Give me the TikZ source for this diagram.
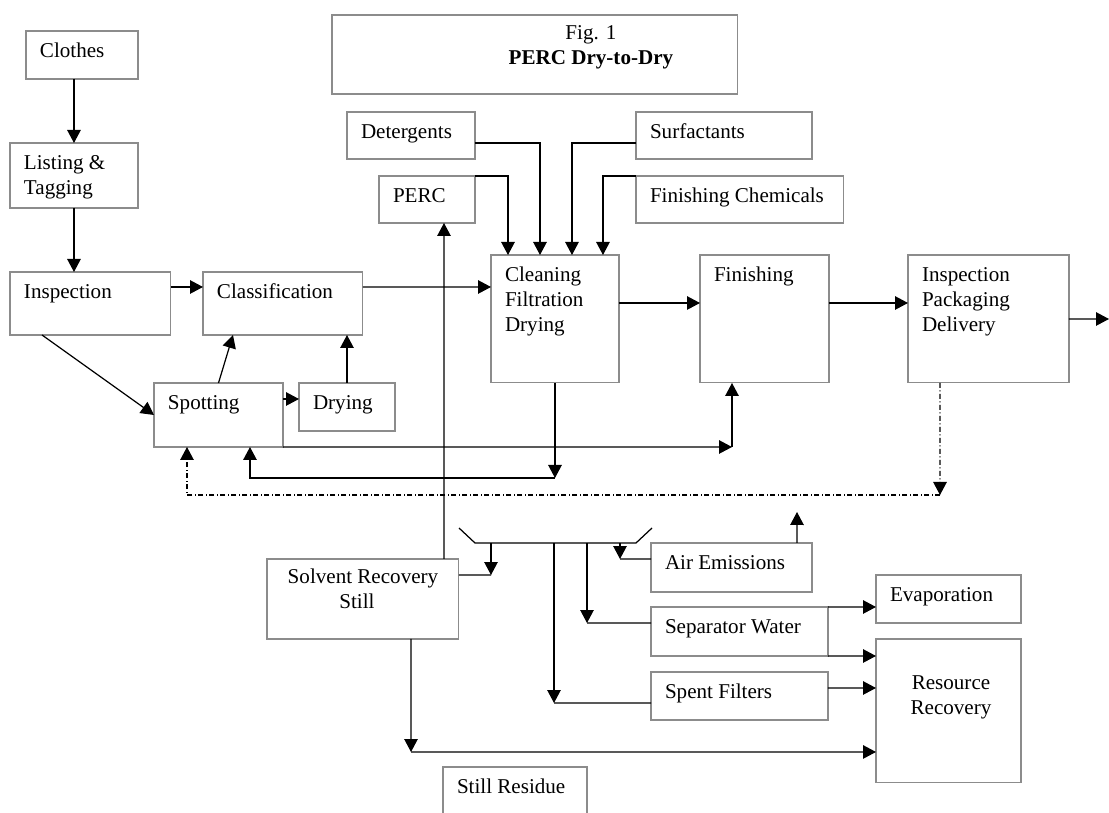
\documentclass[tikz,border=0pt]{standalone}
\usepackage{fontspec}
\setmainfont{Liberation Serif}
\usetikzlibrary{arrows.meta}

\newcommand{\boxtxt}[3]{\parbox[t][#2][t]{#1}{\raggedright\leftskip=0.28cm\rule{0pt}{0.54cm}#3}}
\newcommand{\boxmid}[4]{\parbox[t][#2][t]{#1}{\centering\leftskip=#3 plus 1fil\rule{0pt}{0.5cm}#4}}

\begin{document}
\begin{tikzpicture}[x=0.02cm, y=-0.02cm,
    box/.style={draw=black!45, line width=0.6pt, inner sep=0pt, outer sep=0pt, anchor=north west, font=\fontsize{12}{14}\selectfont},
    arr/.style={line width=0.7pt, -{Triangle[length=2.6mm,width=2.7mm]}},
    ln/.style={line width=0.7pt},
    dashdot/.style={dash pattern=on 1mm off 0.5mm on 0.2mm off 0.5mm}]
      \useasboundingbox (0,0) rectangle (1109,813);

      \node[box] (title) at (332,15) {\boxmid{8.12cm}{1.58cm}{2.24cm}{Fig. 1\\\textbf{PERC Dry-to-Dry}}};
      \node[box] (clothes) at (26,31) {\boxtxt{2.24cm}{0.96cm}{Clothes}};
      \node[box] (listing) at (10,143) {\boxtxt{2.56cm}{1.30cm}{Listing \&\\Tagging}};
      \node[box] (insp) at (10,272) {\boxtxt{3.22cm}{1.26cm}{Inspection}};
      \node[box] (class) at (203,272) {\boxtxt{3.20cm}{1.26cm}{Classification}};
      \node[box] (spot) at (154,383) {\boxtxt{2.58cm}{1.28cm}{Spotting}};
      \node[box] (dry) at (299,383) {\boxtxt{1.92cm}{0.96cm}{Drying}};
      \node[box] (deterg) at (347,112) {\boxtxt{2.56cm}{0.94cm}{Detergents}};
      \node[box] (surf) at (636,112) {\boxtxt{3.52cm}{0.94cm}{Surfactants}};
      \node[box] (perc) at (379,176) {\boxtxt{1.92cm}{0.94cm}{PERC}};
      \node[box] (finchem) at (636,176) {\boxtxt{4.16cm}{0.94cm}{Finishing Chemicals}};
      \node[box] (clean) at (491,255) {\boxtxt{2.56cm}{2.56cm}{Cleaning\\Filtration\\Drying}};
      \node[box] (finish) at (700,255) {\boxtxt{2.58cm}{2.56cm}{Finishing}};
      \node[box] (ipd) at (908,255) {\boxtxt{3.22cm}{2.56cm}{Inspection\\Packaging\\Delivery}};
      \node[box] (srs) at (267,559) {\boxmid{3.84cm}{1.60cm}{0cm}{Solvent Recovery\\Still\hspace*{0.24cm}}};
      \node[box] (air) at (651,543) {\boxtxt{3.22cm}{0.98cm}{Air Emissions}};
      \node[box] (sepw) at (651,607) {\boxtxt{3.54cm}{0.98cm}{Separator Water}};
      \node[box] (spent) at (651,672) {\boxtxt{3.54cm}{0.96cm}{Spent Filters}};
      \node[box] (evap) at (876,575) {\boxtxt{2.90cm}{0.96cm}{Evaporation}};
      \node[box] (rr) at (876,639) {\boxmid{2.90cm}{2.88cm}{0.1cm}{\rule{0pt}{1.02cm}Resource\\Recovery}};
      \node[box] (resid) at (443,767) {\boxtxt{2.88cm}{1.00cm}{Still Residue}};

      \coordinate (out) at (1109,319);
      \coordinate (cj) at (554,478);
      \coordinate (fj) at (732,447);
      \coordinate (dj) at (940,495);
      \coordinate (bl) at (459,528);
      \coordinate (b1) at (475,543);
      \coordinate (b2) at (636,543);
      \coordinate (br) at (652,528);
      \coordinate (s1) at (491,575);
      \coordinate (s2) at (554,703);
      \coordinate (s3) at (587,623);
      \coordinate (s4) at (620,559);
      \coordinate (ae) at (797,512);
      \coordinate (rj) at (411,752);

      \draw[arr] (clothes.south -| listing.north) -- (listing.north);
      \draw[arr] (listing.south) -- (listing.south |- insp.north);
      \draw[arr] ([yshift=-0.3cm]insp.north east) -- ([yshift=-0.3cm]class.north west);
      \draw[arr] ([xshift=0.64cm]insp.south west) -- ([yshift=-0.64cm]spot.north west);
      \draw[arr] (spot.north) -- ([xshift=0.6cm]class.south west);
      \draw[arr] (dry.north) -- (dry.north |- class.south);
      \draw[arr] ([yshift=-0.32cm]spot.north east) -- ([yshift=-0.32cm]dry.north west);
      \draw[arr] ([yshift=-0.3cm]class.north east) -- ([yshift=-0.64cm]clean.north west);

      \draw[arr] ([yshift=-0.62cm]deterg.north east) -| ([xshift=0.98cm]clean.north west);
      \draw[arr] (perc.north east) -| ([xshift=0.34cm]clean.north west);
      \draw[arr] ([yshift=-0.62cm]surf.north west) -| ([xshift=1.62cm]clean.north west);
      \draw[arr] (finchem.north west) -| ([xshift=2.24cm]clean.north west);

      \draw[arr] ([yshift=-0.96cm]clean.north east) -- ([yshift=-0.96cm]finish.north west);
      \draw[arr] ([yshift=-0.96cm]finish.north east) -- ([yshift=-0.96cm]ipd.north west);
      \draw[arr] (ipd.east) -- (out);

      \draw[arr] (clean.south) -- (clean.south |- cj);
      \draw[arr] (clean.south |- cj) -| ([xshift=1.92cm]spot.south west);
      \draw[arr] (spot.south east) -- (fj);
      \draw[arr] (fj) -- (fj |- finish.south);
      \draw[arr, dashdot] ([xshift=0.64cm]ipd.south west) -- (dj);
      \draw[arr, dashdot] (dj) -| ([xshift=0.66cm]spot.south west);

      \draw[arr] ([xshift=3.54cm]srs.north west) -- ([xshift=1.3cm]perc.south west);

      \draw[ln] (bl) -- (b1) -- (b2) -- (br);
      \foreach \s in {s1,s2,s3,s4}
        \draw[arr] (b1 -| \s) -- (\s);
      \draw[ln] ([yshift=-0.32cm]srs.north east) -- (s1);
      \draw[ln] ([yshift=-0.62cm]spent.north west) -- (s2);
      \draw[ln] ([yshift=-0.32cm]sepw.north west) -- (s3);
      \draw[ln] ([yshift=-0.32cm]air.north west) -- (s4);
      \draw[arr] ([xshift=2.92cm]air.north west) -- (ae);

      \draw[arr] (sepw.north east) -- ([yshift=-0.64cm]evap.north west);
      \draw[arr] (sepw.south east) -- ([yshift=-0.34cm]rr.north west);
      \draw[arr] ([yshift=-0.32cm]spent.north east) -- ([yshift=-0.98cm]rr.north west);
      \draw[arr] ([xshift=2.88cm]srs.south west) -- (rj);
      \draw[arr] (rj) -- ([yshift=-2.26cm]rr.north west);

    \end{tikzpicture}
\end{document}
